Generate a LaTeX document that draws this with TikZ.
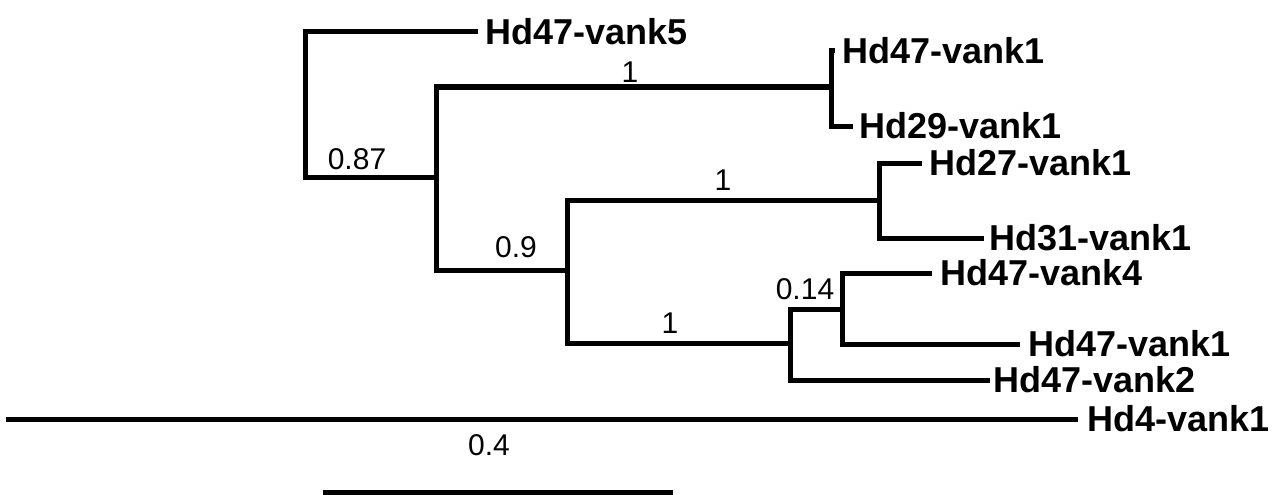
\documentclass[tikz,border=0pt]{standalone}
\usepackage{fontspec}
\setmainfont{Liberation Sans}
\begin{document}
\begin{tikzpicture}[x=1pt,y=-1pt,
  br/.style={line width=5pt,line cap=rect,line join=miter},
  leaf/.style={anchor=west,inner sep=0pt,font=\fontsize{36}{40}\selectfont\bfseries},
  sup/.style={inner sep=0pt,font=\fontsize{30}{34}\selectfont}]
\useasboundingbox (0,0) rectangle (1280,495);
% internal nodes
\coordinate (R) at (305,104.5);
\coordinate (A) at (436,177);
\coordinate (B) at (831,87);
\coordinate (C) at (567,270);
\coordinate (D) at (879,200);
\coordinate (E) at (790,343);
\coordinate (F) at (842,309);
% tips
\coordinate (t5) at (475,32);
\coordinate (t1a) at (832,51);
\coordinate (t29) at (850,126);
\coordinate (t27) at (919,163);
\coordinate (t31) at (981,238);
\coordinate (t4) at (929,273);
\coordinate (t1b) at (1017,344);
\coordinate (t2) at (987,380);
\coordinate (o) at (8,419);
\coordinate (t41) at (1075,419);
\coordinate (s0) at (323,493);
\coordinate (s1) at (673,493);
% branches
\draw[br] (R) |- (t5);
\draw[br] (R) |- (A);
\draw[br] (A) |- (B);
\draw[br] (A) |- (C);
\draw[br] (B) |- (t1a);
\draw[br] (B) |- (t29);
\draw[br] (C) |- (D);
\draw[br] (C) |- (E);
\draw[br] (D) |- (t27);
\draw[br] (D) |- (t31);
\draw[br] (E) |- (F);
\draw[br] (E) |- (t2);
\draw[br] (F) |- (t4);
\draw[br] (F) |- (t1b);
\draw[br] (o) -- (t41);
\draw[line width=7pt] (s0) -- (s1);
% leaf labels
\node[leaf] (l5) at ([xshift=10pt]t5) {Hd47-vank5};
\node[leaf] (l1a) at ([xshift=10pt]t1a) {Hd47-vank1};
\node[leaf] (l29) at ([xshift=9pt]t29) {Hd29-vank1};
\node[leaf] (l27) at ([xshift=10pt]t27) {Hd27-vank1};
\node[leaf] (l31) at ([xshift=8pt]t31) {Hd31-vank1};
\node[leaf] (l4) at ([xshift=11pt]t4) {Hd47-vank4};
\node[leaf] (l1b) at ([xshift=11pt]t1b) {Hd47-vank1};
\node[leaf] (l2) at ([xshift=6pt]t2) {Hd47-vank2};
\node[leaf] (l41) at ([xshift=12pt]t41) {Hd4-vank1};
% support values
\node[sup] (p87) at (357,159) {0.87};
\node[sup] (p1a) at (630,72) {1};
\node[sup] (p1b) at (723,180) {1};
\node[sup] (p9) at (516,247) {0.9};
\node[sup] (p1c) at (670,323) {1};
\node[sup] (p14) at (805,289) {0.14};
\node[sup] (p4) at (489,445) {0.4};
\end{tikzpicture}
\end{document}
